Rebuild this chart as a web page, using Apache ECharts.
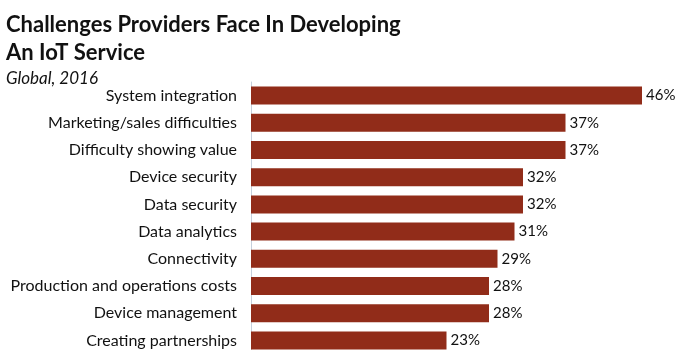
<!DOCTYPE html>
<html>
<head>
<meta charset="utf-8">
<script src="https://cdn.jsdelivr.net/npm/echarts@6/dist/echarts.min.js"></script>
<style>
html, body { margin: 0; padding: 0; background: #fff; overflow: hidden; }
#chart { width: 700px; height: 362px; }
</style>
</head>
<body>
<div id="chart"></div>
<script>
var categories = [
    'System integration',
    'Marketing/sales difficulties',
    'Difficulty showing value',
    'Device security',
    'Data security',
    'Data analytics',
    'Connectivity',
    'Production and operations costs',
    'Device management',
    'Creating partnerships'
];
var values = [46, 37, 37, 32, 32, 31, 29, 28, 28, 23];

var chart = echarts.init(document.getElementById('chart'));
var option = {
    animation: false,
    textStyle: { fontFamily: 'Lato' },
    title: {
        text: 'Challenges Providers Face In Developing\nAn IoT Service',
        subtext: 'Global, 2016',
        left: 1,
        top: 6,
        itemGap: 3,
        textStyle: {
            fontFamily: 'Lato',
            fontWeight: 'bold',
            fontSize: 22,
            lineHeight: 28,
            color: '#111'
        },
        subtextStyle: {
            fontFamily: 'Lato',
            fontStyle: 'italic',
            fontSize: 17,
            color: '#111'
        }
    },
    grid: {
        left: 251,
        right: 24,
        top: 82,
        height: 272
    },
    xAxis: {
        type: 'value',
        min: 0,
        max: 50,
        show: false
    },
    yAxis: {
        type: 'category',
        inverse: true,
        data: categories,
        axisLine: { lineStyle: { color: '#c5d0dc', width: 1 } },
        axisTick: { length: 5, lineStyle: { color: '#c5d0dc' } },
        axisLabel: {
            fontFamily: 'Lato',
            fontSize: 16,
            color: '#111',
            margin: 14
        }
    },
    series: [{
        type: 'bar',
        data: values,
        barWidth: 18,
        itemStyle: { color: '#912c19' },
        label: {
            show: true,
            position: 'right',
            distance: 4,
            formatter: '{c}%',
            fontFamily: 'Lato',
            fontSize: 15,
            color: '#111'
        }
    }]
};
chart.setOption(option);
</script>
</body>
</html>
